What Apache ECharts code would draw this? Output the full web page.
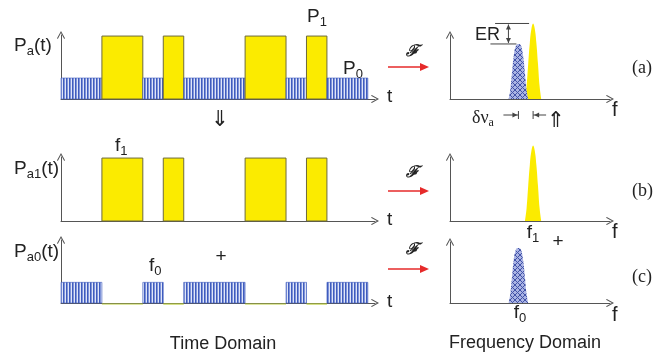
<!DOCTYPE html>
<html>
<head>
<meta charset="utf-8">
<script src="https://cdn.jsdelivr.net/npm/echarts@6/dist/echarts.min.js"></script>
<style>
  html, body { margin: 0; padding: 0; background: #fff; }
  #chart { width: 654px; height: 354px; }
</style>
</head>
<body>
<div id="chart"></div>
<script>
// Bit sequence of the on-off keyed signal (1 = P1 level, 0 = P0 level)
const bits = [0, 0, 1, 1, 0, 1, 0, 0, 0, 1, 1, 0, 1, 0, 0];
const levelP1 = 3;
const levelP0 = 1;

// Spectral line around f0 (frequency, amplitude)
const specF0 = [36, 37, 38, 39, 40, 41, 42, 43, 44, 45, 46, 47, 48];
const specA0 = [0, 14, 40, 65, 80, 85, 86, 85, 80, 65, 40, 14, 0];
// Spectral line around f1
const specF1 = [46, 47, 48, 49, 50, 51, 52, 53, 54, 55, 56];
const specA1 = [0, 20, 55, 88, 110, 118, 110, 88, 55, 20, 0];

const SANS = 'Liberation Sans, Arial, sans-serif';
const SERIF = 'Liberation Serif, Times New Roman, serif';
const TEXT = '#222';
const AXIS = '#555';
const YELLOW = '#fbeb00';

// --- fill patterns ---------------------------------------------------------
function stripePattern() {
  const c = document.createElement('canvas');
  c.width = 3; c.height = 3;
  const g = c.getContext('2d');
  g.fillStyle = '#3f5cbe'; g.fillRect(0, 0, 3, 3);
  g.fillStyle = '#8094d8'; g.fillRect(1, 0, 1, 3);
  g.fillStyle = '#dfe5f8'; g.fillRect(2, 0, 1, 3);
  return { image: c, repeat: 'repeat' };
}
function hatchPattern() {
  const c = document.createElement('canvas');
  c.width = 5; c.height = 5;
  const g = c.getContext('2d');
  g.fillStyle = '#aab4e4'; g.fillRect(0, 0, 5, 5);
  g.strokeStyle = '#4353a8'; g.lineWidth = 1;
  g.beginPath();
  g.moveTo(0, 0); g.lineTo(5, 5);
  g.moveTo(0, 5); g.lineTo(5, 0);
  g.stroke();
  return { image: c, repeat: 'repeat' };
}
const STRIPES = stripePattern();
const HATCH = hatchPattern();

// --- runs of identical bits: [start, end, level, kind] ---------------------
function runs(seq) {
  const out = [];
  let s = 0;
  for (let i = 1; i <= seq.length; i++) {
    if (i === seq.length || seq[i] !== seq[s]) { out.push([s, i, seq[s]]); s = i; }
  }
  return out;
}
const allRuns = runs(bits);
const dataA = allRuns.map(r => [r[0], r[1], r[2] ? levelP1 : levelP0, r[2]]);
const dataB = allRuns.filter(r => r[2] === 1).map(r => [r[0], r[1], levelP1, 1]);
const dataC = allRuns.map(r => r[2] === 0 ? [r[0], r[1], levelP0, 0] : [r[0], r[1], 0, 2]);

function renderPulse(params, api) {
  const s = api.value(0), e = api.value(1), lv = api.value(2), kind = api.value(3);
  const p0 = api.coord([s, lv]);
  const p1 = api.coord([e, 0]);
  if (kind === 2) {
    return { type: 'line', shape: { x1: p0[0], y1: p1[1] + 1, x2: p1[0], y2: p1[1] + 1 },
      style: { stroke: '#b9cc3a', lineWidth: 1.2 } };
  }
  const shape = { x: p0[0], y: p0[1], width: p1[0] - p0[0], height: p1[1] - p0[1] };
  return kind === 1
    ? { type: 'rect', shape, style: { fill: YELLOW, stroke: '#6e6a3c', lineWidth: 1 } }
    : { type: 'rect', shape, style: { fill: STRIPES, stroke: '#3f5cbe', lineWidth: 0.6 } };
}

const arrowHead = 'path://M5,0 L10,9 L9,10 L5,2.6 L1,10 L0,9 Z';
function axisLine() {
  return { show: true, onZero: false, symbol: ['none', arrowHead], symbolSize: [8, 9],
    lineStyle: { color: AXIS, width: 1 } };
}
function xAx(grid, max) {
  return { type: 'value', gridIndex: grid, min: 0, max, axisLine: axisLine(),
    axisTick: { show: false }, axisLabel: { show: false }, splitLine: { show: false } };
}
function yAx(grid, max) {
  return { type: 'value', gridIndex: grid, min: 0, max, axisLine: axisLine(),
    axisTick: { show: false }, axisLabel: { show: false }, splitLine: { show: false } };
}

const pairs = (xs, ys) => xs.map((x, i) => [x, ys[i]]);
function spectrum(idx, xs, ys, fill, z) {
  return { type: 'line', xAxisIndex: idx, yAxisIndex: idx, data: pairs(xs, ys), smooth: 0.45,
    symbol: 'none', clip: false, z, lineStyle: { width: 0 }, areaStyle: { color: fill, opacity: 1 } };
}

// --- text helpers -----------------------------------------------------------
function txt(x, y, text, size, opts) {
  opts = opts || {};
  return { type: 'text', x, y, z: 100, style: Object.assign({
    text, fill: TEXT, font: (opts.weight || 'normal') + ' ' + size + 'px ' + (opts.family || SANS),
    align: opts.align || 'left', verticalAlign: 'middle' }, opts.style || {}) };
}
function subTxt(x, y, main, sub, tail, size, family, align) {
  const fam = family || SANS;
  return { type: 'text', x, y, z: 100, style: {
    text: '{m|' + main + '}{s|' + sub + '}' + (tail ? '{m|' + tail + '}' : ''),
    align: align || 'left', verticalAlign: 'middle',
    rich: {
      m: { fontSize: size, fontFamily: fam, fill: TEXT, color: TEXT },
      s: { fontSize: Math.round(size * 0.66), fontFamily: fam, fill: TEXT, color: TEXT, padding: [Math.round(size * 0.55), 0, 0, 0] }
    } } };
}
function redArrow(y) {
  return { type: 'group', z: 100, children: [
    { type: 'line', shape: { x1: 388, y1: y, x2: 422, y2: y }, style: { stroke: '#e62a2a', lineWidth: 1.6 } },
    { type: 'polygon', shape: { points: [[429, y], [420, y - 4], [420, y + 4]] }, style: { fill: '#e62a2a' } }
  ] };
}
function scriptF(x, y) {
  return txt(x, y, '\u2131', 16, { family: 'DejaVu Serif, serif', weight: 'bold italic', align: 'center' });
}

const chart = echarts.init(document.getElementById('chart'), null, { renderer: 'canvas' });

const option = {
  animation: false,
  backgroundColor: '#fff',
  grid: [
    { left: 61, top: 35, width: 314, height: 64 },
    { left: 61, top: 157, width: 314, height: 64 },
    { left: 61, top: 240, width: 314, height: 63 },
    { left: 450, top: 35, width: 160, height: 64 },
    { left: 450, top: 157, width: 160, height: 64 },
    { left: 450, top: 242, width: 160, height: 61 }
  ],
  xAxis: [xAx(0, 15.35), xAx(1, 15.35), xAx(2, 15.35), xAx(3, 98.2), xAx(4, 98.2), xAx(5, 98.2)],
  yAxis: [yAx(0, 3.05), yAx(1, 3.05), yAx(2, 3.05), yAx(3, 100), yAx(4, 100), yAx(5, 95.3)],
  series: [
    { type: 'custom', xAxisIndex: 0, yAxisIndex: 0, renderItem: renderPulse, data: dataA,
      encode: { x: [0, 1], y: 2 }, clip: false },
    { type: 'custom', xAxisIndex: 1, yAxisIndex: 1, renderItem: renderPulse, data: dataB,
      encode: { x: [0, 1], y: 2 }, clip: false },
    { type: 'custom', xAxisIndex: 2, yAxisIndex: 2, renderItem: renderPulse, data: dataC,
      encode: { x: [0, 1], y: 2 }, clip: false },
    spectrum(3, specF1, specA1, YELLOW, 2),
    spectrum(3, specF0, specA0, HATCH, 3),
    spectrum(4, specF1, specA1, YELLOW, 2),
    spectrum(5, specF0, specA0, HATCH, 3)
  ]
};
chart.setOption(option);

// Peak positions in pixels, used for the ER and delta-nu annotations
const iPeak0 = specA0.indexOf(Math.max.apply(null, specA0));
const iPeak1 = specA1.indexOf(Math.max.apply(null, specA1));
const pk0 = chart.convertToPixel({ gridIndex: 3 }, [specF0[iPeak0], specA0[iPeak0]]);
const pk1 = chart.convertToPixel({ gridIndex: 3 }, [specF1[iPeak1], specA1[iPeak1]]);
const base = chart.convertToPixel({ gridIndex: 3 }, [0, 0]);
const erX = pk0[0] - 10;
const dy = base[1] + 16;

const thin = { stroke: '#444', lineWidth: 1 };
const annotations = [
  // ER: extinction ratio between the two peak levels
  { type: 'line', z: 100, shape: { x1: pk1[0] - 38, y1: pk1[1], x2: pk1[0] - 4, y2: pk1[1] }, style: thin },
  { type: 'line', z: 100, shape: { x1: pk0[0] - 28, y1: pk0[1], x2: pk0[0] - 2, y2: pk0[1] }, style: thin },
  { type: 'line', z: 100, shape: { x1: erX, y1: pk1[1] + 1, x2: erX, y2: pk0[1] - 1 }, style: thin },
  { type: 'polygon', z: 100, shape: { points: [[erX, pk1[1] + 1], [erX - 2.5, pk1[1] + 6], [erX + 2.5, pk1[1] + 6]] }, style: { fill: '#444' } },
  { type: 'polygon', z: 100, shape: { points: [[erX, pk0[1] - 1], [erX - 2.5, pk0[1] - 6], [erX + 2.5, pk0[1] - 6]] }, style: { fill: '#444' } },
  // delta-nu: frequency offset between the two peaks
  { type: 'line', z: 100, shape: { x1: pk0[0] - 15, y1: dy, x2: pk0[0], y2: dy }, style: thin },
  { type: 'polygon', z: 100, shape: { points: [[pk0[0] - 1, dy], [pk0[0] - 6, dy - 2.5], [pk0[0] - 6, dy + 2.5]] }, style: { fill: '#444' } },
  { type: 'line', z: 100, shape: { x1: pk0[0], y1: dy - 4, x2: pk0[0], y2: dy + 4 }, style: thin },
  { type: 'line', z: 100, shape: { x1: pk1[0], y1: dy, x2: pk1[0] + 13, y2: dy }, style: thin },
  { type: 'polygon', z: 100, shape: { points: [[pk1[0] + 1, dy], [pk1[0] + 6, dy - 2.5], [pk1[0] + 6, dy + 2.5]] }, style: { fill: '#444' } },
  { type: 'line', z: 100, shape: { x1: pk1[0], y1: dy - 4, x2: pk1[0], y2: dy + 4 }, style: thin },
  txt(475, 35, 'ER', 18),
  subTxt(472, 118, '\u03b4\u03bd', 'a', '', 18, SERIF)
];

const labels = [
  // time domain
  subTxt(14, 46, 'P', 'a', '(t)', 19),
  subTxt(307, 17, 'P', '1', '', 19),
  subTxt(343, 69, 'P', '0', '', 19),
  txt(387, 97, 't', 19),
  txt(220, 120, '\u21d3', 22, { align: 'center', family: 'DejaVu Sans, sans-serif' }),
  subTxt(14, 169, 'P', 'a1', '(t)', 19),
  subTxt(115, 146, 'f', '1', '', 19),
  txt(387, 220, 't', 19),
  subTxt(14, 252, 'P', 'a0', '(t)', 19),
  subTxt(149, 266, 'f', '0', '', 19),
  txt(221, 257, '+', 19, { align: 'center' }),
  txt(387, 302, 't', 19),
  txt(223, 344, 'Time Domain', 18, { align: 'center' }),
  // transforms
  scriptF(412, 52), redArrow(67),
  scriptF(412, 173), redArrow(191),
  scriptF(412, 250), redArrow(269),
  // frequency domain
  txt(556, 121, '\u21d1', 22, { align: 'center', family: 'DejaVu Sans, sans-serif' }),
  txt(612, 110, 'f', 20),
  txt(612, 232, 'f', 20),
  txt(612, 315, 'f', 20),
  subTxt(533, 233, 'f', '1', '', 19, SANS, 'center'),
  txt(558, 242, '+', 19, { align: 'center' }),
  subTxt(520, 313, 'f', '0', '', 19, SANS, 'center'),
  txt(632, 68, '(a)', 18, { family: SERIF }),
  txt(632, 191, '(b)', 18, { family: SERIF }),
  txt(632, 277, '(c)', 18, { family: SERIF }),
  txt(525, 343, 'Frequency Domain', 18, { align: 'center' })
];

chart.setOption({ graphic: { elements: annotations.concat(labels) } });
</script>
</body>
</html>
